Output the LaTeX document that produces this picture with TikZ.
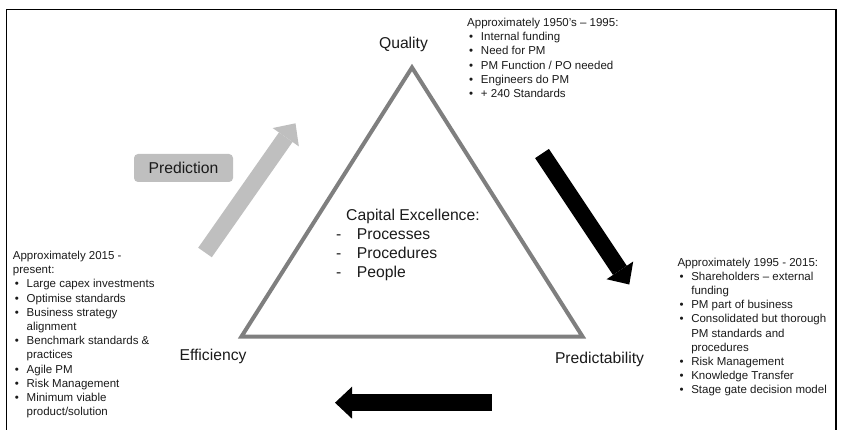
\documentclass[tikz,border=0pt]{standalone}
\usepackage{fontspec}
\setmainfont{Liberation Sans}
\usetikzlibrary{arrows.meta}
\definecolor{trigray}{HTML}{7F7F7F}
\definecolor{predgray}{HTML}{BFBFBF}
\definecolor{inkgray}{HTML}{1A1A1A}
\newcommand{\bul}{\makebox[13.8pt][l]{\hspace{2pt}\textbullet}}
\newcommand{\cont}{\hspace*{13.8pt}}
\newcommand{\dashitem}{\makebox[20.7pt][l]{-}}
\begin{document}
\begin{tikzpicture}[x=1pt,y=-1pt,
	every node/.style={text=inkgray,inner sep=0pt},
	bigtxt/.style={font=\fontsize{15.7}{19.2}\selectfont},
	txtblock/.style={anchor=north west,align=left,font=\fontsize{11.5}{14.2}\selectfont},
	blockarrow/.style={line width=16.6pt,-{Triangle[length=17pt,width=32pt,line width=0pt]}}]
\useasboundingbox (0,0) rectangle (842,430);
\draw[line width=1.7pt] (6.5,430) -- (6.5,9.5) -- (835.8,9.5) -- (835.8,430);
\coordinate (top) at (412,67.5);
\coordinate (left) at (241.5,336.5);
\coordinate (right) at (582.5,336.5);
\draw[trigray,line width=4pt,line join=miter] (top) -- (right) -- (left) -- cycle;
\node[bigtxt,anchor=base] (quality) at (403.5,48.3) {Quality};
\node[bigtxt,anchor=base] (efficiency) at (213,360.5) {Efficiency};
\node[bigtxt,anchor=base] (predictability) at (599.5,363) {Predictability};
\node[bigtxt,anchor=north west,align=left] (core) at (336,208.5)
	{\hspace*{10pt}Capital Excellence:\\
	\dashitem Processes\\
	\dashitem Procedures\\
	\dashitem People};
\node[bigtxt,fill=predgray,rounded corners=4pt,minimum width=99pt,minimum height=28pt] (prediction) at (183.5,168) {Prediction};
\coordinate (rise tail) at (205,252.5);
\coordinate (rise tip) at (295.5,123.3);
\coordinate (fall tail) at (542,153.5);
\coordinate (fall tip) at (629.3,284.5);
\coordinate (back tail) at (491.7,402.7);
\coordinate (back tip) at (335,402.7);
\draw[blockarrow,predgray] (rise tail) -- (rise tip);
\draw[blockarrow,black] (fall tail) -- (fall tip);
\draw[blockarrow,black] (back tail) -- (back tip);
\node[txtblock] (era one) at (467,18)
	{Approximately 1950's -- 1995:\\
	\bul Internal funding\\
	\bul Need for PM\\
	\bul PM Function / PO needed\\
	\bul Engineers do PM\\
	\bul + 240 Standards};
\node[txtblock] (era two) at (677.3,257.5)
	{Approximately 1995 - 2015:\\
	\bul Shareholders -- external\\
	\cont funding\\
	\bul PM part of business\\
	\bul Consolidated but thorough\\
	\cont PM standards and\\
	\cont procedures\\
	\bul Risk Management\\
	\bul Knowledge Transfer\\
	\bul Stage gate decision model};
\node[txtblock] (era three) at (12.7,251)
	{Approximately 2015 -\\
	present:\\
	\bul Large capex investments\\
	\bul Optimise standards\\
	\bul Business strategy\\
	\cont alignment\\
	\bul Benchmark standards \&\\
	\cont practices\\
	\bul Agile PM\\
	\bul Risk Management\\
	\bul Minimum viable\\
	\cont product/solution};
\end{tikzpicture}
\end{document}
